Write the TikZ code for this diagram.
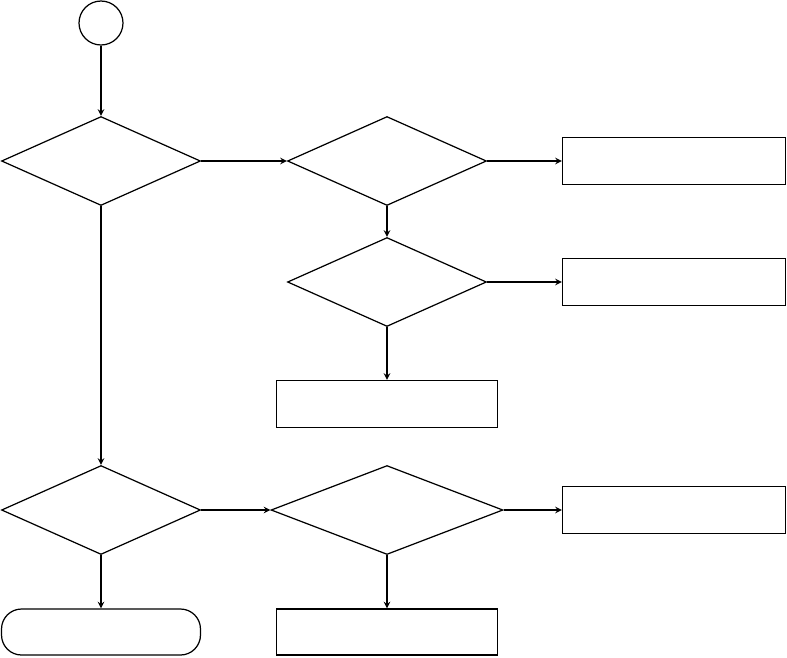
\documentclass[tikz,border=0pt]{standalone}
\usepackage{amsmath,amssymb}
\usepackage{tikz}
\usetikzlibrary{shapes.geometric}

\begin{document}
\begin{tikzpicture}[>=stealth, x=0.02cm, y=-0.02cm, line width=0.7pt,
  every node/.style={font=\small, draw, inner sep=0pt},
  decision/.style={diamond, minimum width=3.98cm, minimum height=1.78cm},
  process/.style={rectangle, minimum width=4.46cm, minimum height=0.94cm},
  terminal/.style={rectangle, rounded corners=0.4cm, minimum width=3.98cm, minimum height=0.92cm}]
\useasboundingbox (0,0) rectangle (787,657);
\node[circle, minimum size=0.88cm] (start) at (101,23) {};
\node[decision] (q1) at (101,161) {};
\node[decision] (q2) at (387,161) {};
\node[process] (p1) at (674,161) {};
\node[decision] (q3) at (387,282) {};
\node[process] (p2) at (674,282) {};
\node[process, minimum width=4.42cm] (p3) at (387,404) {};
\node[decision] (q4) at (101,510) {};
\node[decision, minimum width=4.64cm] (q5) at (387,510) {};
\node[process] (p4) at (674,510) {};
\node[terminal] (stop) at (101,632) {};
\node[process, minimum width=4.42cm, minimum height=0.92cm] (p5) at (387,632) {};
\draw[->] (start) -- (q1);
\draw[->] (q1) -- (q2);
\draw[->] (q2) -- (p1);
\draw[->] (q2) -- (q3);
\draw[->] (q3) -- (p2);
\draw[->] (q3) -- (p3);
\draw[->] (q1) -- (q4);
\draw[->] (q4) -- (q5);
\draw[->] (q5) -- (p4);
\draw[->] (q4) -- (stop);
\draw[->] (q5) -- (p5);
\end{tikzpicture}
\end{document}
